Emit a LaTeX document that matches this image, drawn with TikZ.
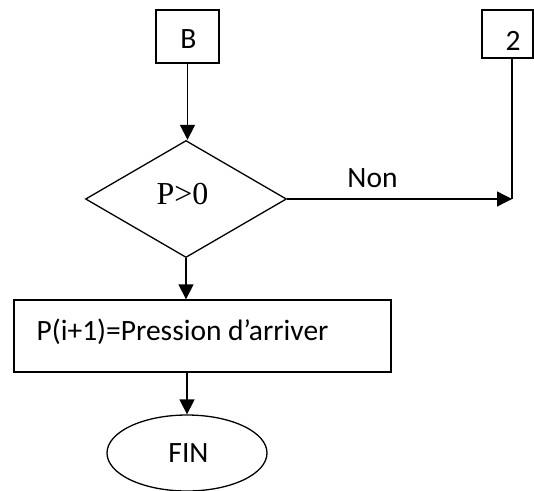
\documentclass[tikz,border=0pt]{standalone}
\usepackage{fontspec}
\setmainfont{Carlito}
\newfontfamily\serifP{Liberation Serif}
\usetikzlibrary{shapes.geometric,arrows.meta}
\begin{document}
\begin{tikzpicture}[x=1pt,y=-1pt,
  line width=1.3pt,
  conn/.style={-{Triangle[length=15pt,width=15pt]}},
  shapebox/.style={draw, inner sep=0pt},
  txt/.style={inner sep=0pt, font=\fontsize{29.5}{32}\selectfont},
]
\useasboundingbox (0,0) rectangle (534,490);
% boxes
\node[shapebox, minimum width=63pt, minimum height=53pt] (B) at (187.5,36.5) {};
\node[txt] (Btxt) at (188.5,39) {B};
\node[shapebox, minimum width=51pt, minimum height=48pt] (two) at (507.5,34) {};
\node[txt] (twotxt) at (513,40.5) {2};
\node[shapebox, diamond, minimum width=201pt, minimum height=117pt] (dia) at (186,199) {};
\node[inner sep=0pt, font=\serifP\fontsize{32}{34}\selectfont] (diatxt) at (182.5,194.5) {P>0};
\node[shapebox, minimum width=377pt, minimum height=72pt] (r) at (202.5,336) {};
\node[txt, anchor=base west] (rtxt) at (36,340) {P(i+1)=Pression d’arriver};
\node[shapebox, ellipse, minimum width=160pt, minimum height=76pt] (fin) at (187,453) {};
\node[txt] (fintxt) at (188.5,453.5) {FIN};
\node[txt, anchor=base] (non) at (372.5,187) {Non};
\coordinate (j) at (512,199);
% connectors
\draw[conn] (B.south) -- (B.south |- dia.north);
\draw[conn] (dia.south) -- (dia.south |- r.north);
\draw[conn] (fin.north |- r.south) -- (fin.north);
\draw[conn] (dia.east) -- (j);
\draw (two.south -| j) -- (j);
\end{tikzpicture}
\end{document}
